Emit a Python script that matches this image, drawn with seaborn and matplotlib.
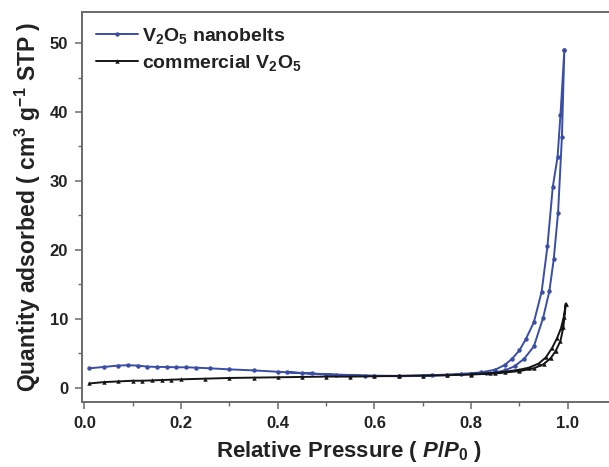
import numpy as np
import pandas as pd
import matplotlib
matplotlib.use("Agg")
import matplotlib.pyplot as plt
from matplotlib.ticker import MultipleLocator
import seaborn as sns

# N2 sorption isotherms: adsorption branch followed by desorption branch
nano_ads_p = [0.01, 0.04, 0.07, 0.09, 0.11, 0.13, 0.15, 0.17, 0.19, 0.21, 0.23, 0.26, 0.30,
              0.35, 0.40, 0.45, 0.50, 0.55, 0.60, 0.65, 0.70, 0.75, 0.80, 0.83, 0.85, 0.87,
              0.89, 0.91, 0.93, 0.949, 0.962, 0.971, 0.980, 0.988, 0.993]
nano_ads_q = [2.8, 3.0, 3.2, 3.25, 3.2, 3.05, 3.0, 3.0, 2.95, 2.95, 2.9, 2.8, 2.65,
              2.5, 2.3, 2.1, 1.9, 1.75, 1.7, 1.65, 1.7, 1.8, 1.95, 2.05, 2.2, 2.5,
              3.1, 4.2, 6.0, 10.1, 14.0, 18.6, 25.4, 36.4, 49.0]
nano_des_p = [0.993, 0.985, 0.979, 0.969, 0.958, 0.946, 0.93, 0.913, 0.90, 0.885, 0.87,
              0.85, 0.82, 0.78, 0.72, 0.65, 0.58, 0.52, 0.47, 0.42]
nano_des_q = [49.0, 39.6, 33.5, 29.1, 20.5, 13.9, 9.5, 7.0, 5.4, 4.2, 3.3,
              2.6, 2.2, 2.0, 1.8, 1.7, 1.75, 1.9, 2.05, 2.25]

comm_ads_p = [0.01, 0.04, 0.07, 0.10, 0.12, 0.14, 0.16, 0.18, 0.20, 0.25, 0.30, 0.35,
              0.40, 0.45, 0.50, 0.55, 0.60, 0.65, 0.70, 0.75, 0.80, 0.85, 0.90, 0.93,
              0.95, 0.965, 0.975, 0.985, 0.991, 0.996]
comm_ads_q = [0.6, 0.8, 0.9, 1.0, 1.0, 1.05, 1.1, 1.15, 1.2, 1.3, 1.4, 1.45,
              1.5, 1.55, 1.6, 1.6, 1.65, 1.7, 1.75, 1.8, 1.9, 2.05, 2.4, 2.8,
              3.4, 4.3, 5.3, 6.8, 8.8, 12.2]
comm_des_p = [0.996, 0.992, 0.986, 0.978, 0.968, 0.955, 0.94, 0.92, 0.90, 0.87, 0.84, 0.80]
comm_des_q = [12.2, 10.3, 8.6, 7.2, 5.8, 4.4, 3.5, 2.9, 2.6, 2.3, 2.1, 1.95]

labels = [r"$\mathbf{V_2O_5}$ nanobelts", r"commercial $\mathbf{V_2O_5}$"]
xtick_labels = ["0.0", "0.2", "0.4", "0.6", "0.8", "1.0"]

df = pd.concat([
    pd.DataFrame({"p": nano_ads_p + nano_des_p, "q": nano_ads_q + nano_des_q,
                  "sample": labels[0]}),
    pd.DataFrame({"p": comm_ads_p + comm_des_p, "q": comm_ads_q + comm_des_q,
                  "sample": labels[1]}),
], ignore_index=True)

sns.set_style("ticks")
plt.rcParams["font.family"] = ["Liberation Sans", "DejaVu Sans"]
plt.rcParams["font.weight"] = "bold"
plt.rcParams["mathtext.fontset"] = "custom"
plt.rcParams["mathtext.rm"] = "Liberation Sans:bold"
plt.rcParams["mathtext.bf"] = "Liberation Sans:bold"
plt.rcParams["mathtext.it"] = "Liberation Sans:bold:italic"

fig = plt.figure(figsize=(6.09, 4.67), dpi=100)
ax = fig.add_axes([0.1346, 0.139, 0.877, 0.835])

palette = {labels[0]: "#3a4ea6", labels[1]: "#151515"}
sns.lineplot(data=df, x="p", y="q", hue="sample", style="sample", palette=palette,
             markers={labels[0]: "o", labels[1]: "^"}, dashes=False,
             sort=False, estimator=None, lw=1.4, markersize=3.2,
             markeredgewidth=0, ax=ax)

ax.set_xlim(-0.005, 1.1)
ax.set_ylim(-2.1, 54.5)
ax.xaxis.set_major_locator(MultipleLocator(0.2))
ax.xaxis.set_minor_locator(MultipleLocator(0.1))
ax.yaxis.set_major_locator(MultipleLocator(10))
ax.yaxis.set_minor_locator(MultipleLocator(5))
ax.set_xticks([0.0, 0.2, 0.4, 0.6, 0.8, 1.0])
ax.set_xticklabels(xtick_labels)

for s in ["left", "bottom", "top", "right"]:
    ax.spines[s].set_color("#6a6a6a")
    ax.spines[s].set_linewidth(1.4)
ax.tick_params(axis="both", which="major", direction="out", length=5, width=1.1,
               color="#6a6a6a", labelsize=12, pad=5)
ax.tick_params(axis="both", which="minor", direction="out", length=3, width=1.0,
               color="#6a6a6a")
for t in ax.get_xticklabels() + ax.get_yticklabels():
    t.set_fontweight("bold")
    t.set_color("#222222")

ax.set_xlabel(r"Relative Pressure ( $\mathit{P/P_0}$ )", fontsize=16,
              fontweight="bold", color="#222222", labelpad=6)
ax.set_ylabel(r"Quantity adsorbed ( cm$^{3}$ g$^{-1}$ STP )", fontsize=16.5,
              fontweight="bold", color="#222222", labelpad=5)

leg = ax.legend(loc="upper left", frameon=False, fontsize=14, handlelength=2.2,
                handletextpad=0.2, borderaxespad=0.3, labelspacing=0.35)
for t in leg.get_texts():
    t.set_fontweight("bold")
    t.set_color("#222222")

fig.savefig("out.png", dpi=100)
